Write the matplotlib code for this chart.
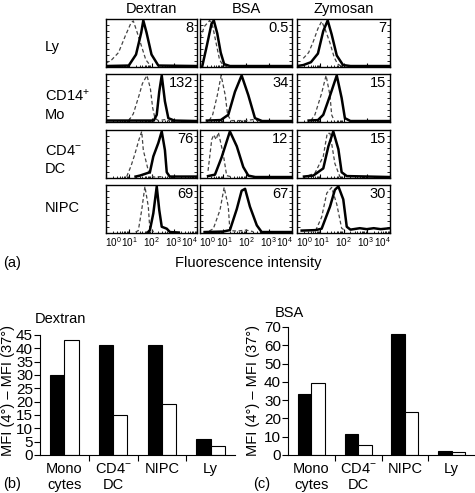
import matplotlib
matplotlib.use("Agg")
import matplotlib.pyplot as plt
import matplotlib.transforms as mtransforms
import numpy as np
from matplotlib.ticker import FixedLocator, NullFormatter

plt.rcParams['font.family'] = ['Liberation Sans', 'DejaVu Sans']
plt.rcParams['mathtext.fontset'] = 'custom'
plt.rcParams['mathtext.rm'] = 'Liberation Sans'
plt.rcParams['mathtext.it'] = 'Liberation Sans:italic'
plt.rcParams['mathtext.bf'] = 'Liberation Sans:bold'

# ---------------- data ----------------
stimuli = ["Dextran", "BSA", "Zymosan"]
cell_rows = ["Ly", "CD14$^{+}$\nMo", "CD4$^{-}$\nDC", "NIPC"]
mfi_numbers = [["8", "0.5", "7"],
               ["132", "34", "15"],
               ["76", "12", "15"],
               ["69", "67", "30"]]
decade_labels = [r"$\mathregular{10^{%d}}$" % k for k in range(5)]

# histogram curves: (log10 fluorescence, relative count)
ly_dex_solid = [(0, 0.02), (1.0, 0.03), (1.32, 0.26), (1.55, 0.72), (1.64, 0.97), (1.78, 0.72), (2.0, 0.26), (2.3, 0.03), (4.0, 0.02)]
ly_dex_dash = [(0.0, 0.08), (0.25, 0.15), (0.55, 0.3), (0.85, 0.65), (1.1, 0.92), (1.2, 0.96), (1.35, 0.75), (1.55, 0.45), (1.75, 0.15), (1.95, 0.03)]
ly_bsa_solid = [(0.1, 0.02), (0.3, 0.45), (0.5, 0.9), (0.6, 0.97), (0.75, 0.7), (0.9, 0.3), (1.05, 0.06), (1.3, 0.02), (4.0, 0.02)]
ly_bsa_dash = [(0.0, 0.6), (0.2, 0.85), (0.42, 0.97), (0.55, 0.85), (0.7, 0.5), (0.85, 0.15), (1.0, 0.04), (1.2, 0.0)]
ly_zym_solid = [(0, 0.02), (0.27, 0.04), (0.6, 0.1), (0.9, 0.28), (1.13, 0.75), (1.32, 0.97), (1.49, 0.68), (1.71, 0.24), (1.98, 0.04), (2.3, 0.02), (4.0, 0.02)]
ly_zym_dash = [(0.27, 0.18), (0.5, 0.3), (0.7, 0.53), (0.9, 0.8), (1.06, 0.95), (1.2, 0.8), (1.42, 0.5), (1.6, 0.2), (1.75, 0.06), (1.9, 0.02)]

mo_dex_solid = [(0, 0.03), (2.1, 0.03), (2.23, 0.15), (2.34, 0.63), (2.45, 0.97), (2.59, 0.43), (2.74, 0.08), (3.0, 0.03), (4.0, 0.02)]
mo_dex_dash = [(1.0, 0.03), (1.2, 0.17), (1.45, 0.55), (1.6, 0.8), (1.8, 0.97), (1.95, 0.7), (2.05, 0.3), (2.15, 0.08), (2.3, 0.03), (2.6, 0.05), (2.8, 0.02)]
mo_bsa_solid = [(0.3, 0.03), (0.9, 0.04), (1.23, 0.15), (1.52, 0.63), (1.81, 0.97), (2.1, 0.56), (2.39, 0.08), (2.7, 0.02), (4.0, 0.02)]
mo_bsa_dash = [(0.4, 0.03), (0.55, 0.15), (0.75, 0.55), (0.92, 0.97), (1.1, 0.55), (1.2, 0.15), (1.35, 0.03), (2.0, 0.03), (2.3, 0.05), (2.6, 0.02)]
mo_zym_solid = [(0.5, 0.03), (0.9, 0.04), (1.13, 0.15), (1.42, 0.55), (1.71, 0.97), (1.92, 0.5), (2.06, 0.08), (2.3, 0.02), (4.0, 0.02)]
mo_zym_dash = [(0.6, 0.03), (0.77, 0.15), (1.06, 0.6), (1.25, 0.97), (1.42, 0.55), (1.49, 0.15), (1.6, 0.03)]

dc_dex_solid = [(1.3, 0.03), (1.49, 0.05), (1.93, 0.12), (2.08, 0.45), (2.3, 0.73), (2.45, 0.97), (2.59, 0.58), (2.67, 0.12), (2.8, 0.03), (4.0, 0.03)]
dc_dex_dash = [(0.91, 0.03), (1.1, 0.25), (1.27, 0.5), (1.45, 0.8), (1.57, 0.97), (1.64, 0.58), (1.86, 0.15), (2.08, 0.02), (2.5, 0.03)]
dc_bsa_solid = [(0.35, 0.04), (0.65, 0.07), (0.94, 0.43), (1.3, 0.97), (1.6, 0.66), (1.88, 0.23), (2.1, 0.05), (2.4, 0.02), (4.0, 0.02)]
dc_bsa_dash = [(0.35, 0.15), (0.51, 0.8), (0.6, 0.9), (0.7, 0.8), (0.8, 0.95), (1.01, 0.5), (1.16, 0.05), (1.4, 0.02)]
dc_zym_solid = [(0.3, 0.03), (0.7, 0.05), (1.13, 0.2), (1.35, 0.66), (1.56, 0.97), (1.78, 0.6), (1.92, 0.12), (2.14, 0.04), (4.0, 0.02)]
dc_zym_dash = [(0.5, 0.05), (0.77, 0.1), (1.13, 0.45), (1.3, 0.93), (1.42, 0.93), (1.63, 0.3), (1.85, 0.02)]

np_dex_solid = [(1.85, 0.02), (1.93, 0.06), (2.08, 0.41), (2.23, 0.97), (2.34, 0.48), (2.45, 0.13), (2.67, 0.09), (2.81, 0.02), (3.2, 0.01)]
np_dex_dash = [(1.3, 0.02), (1.42, 0.05), (1.57, 0.48), (1.71, 0.97), (1.86, 0.55), (1.93, 0.06), (2.1, 0.03)]
np_bsa_solid = [(0.2, 0.02), (1.0, 0.03), (1.3, 0.06), (1.6, 0.5), (1.81, 0.88), (1.96, 0.92), (2.17, 0.55), (2.47, 0.16), (2.68, 0.02), (4.0, 0.02)]
np_bsa_dash = [(0.4, 0.04), (0.58, 0.09), (0.87, 0.48), (1.05, 0.95), (1.23, 0.55), (1.3, 0.05), (1.6, 0.04), (2.0, 0.06), (2.3, 0.03)]
np_zym_solid = [(0.2, 0.05), (0.8, 0.06), (1.06, 0.09), (1.42, 0.55), (1.63, 0.9), (1.78, 0.97), (1.99, 0.7), (2.14, 0.13), (2.3, 0.07), (2.7, 0.1), (3.0, 0.08), (3.3, 0.1), (3.6, 0.08), (4.0, 0.1)]
np_zym_dash = [(0.8, 0.05), (1.06, 0.33), (1.28, 0.83), (1.49, 0.95), (1.71, 0.6), (1.92, 0.1), (2.1, 0.04)]

solid_curves = [[ly_dex_solid, ly_bsa_solid, ly_zym_solid],
                [mo_dex_solid, mo_bsa_solid, mo_zym_solid],
                [dc_dex_solid, dc_bsa_solid, dc_zym_solid],
                [np_dex_solid, np_bsa_solid, np_zym_solid]]
dash_curves = [[ly_dex_dash, ly_bsa_dash, ly_zym_dash],
               [mo_dex_dash, mo_bsa_dash, mo_zym_dash],
               [dc_dex_dash, dc_bsa_dash, dc_zym_dash],
               [np_dex_dash, np_bsa_dash, np_zym_dash]]

bar_categories = ["Mono\ncytes", "CD4$^{-}$\nDC", "NIPC", "Ly"]
dextran_4 = [30, 41.2, 41.2, 5.9]
dextran_37 = [43.1, 15, 19.1, 3.4]
bsa_4 = [33.1, 11.5, 66.4, 2.2]
bsa_37 = [39.5, 5.5, 23.3, 1.5]

# ---------------- figure ----------------
W, H = 475, 493
fig = plt.figure(figsize=(W / 100, H / 100), dpi=100)


def ax_px(x, y, w, h):
    return fig.add_axes([x / W, 1 - (y + h) / H, w / W, h / H])


col_x = [(106, 91), (200, 92), (297, 93)]
row_y = [19, 74, 130, 185]
row_h = 48

minor_pos = [k + np.log10(m) for k in range(4) for m in range(2, 10)]
label_shift_px = [7.5, 1, 0, -1, -7.5]

for r in range(4):
    for c in range(3):
        x0, w = col_x[c]
        ax = ax_px(x0, row_y[r], w, row_h)
        sx, sy = zip(*solid_curves[r][c])
        dx, dy = zip(*dash_curves[r][c])
        ax.plot(dx, dy, color='#444444', lw=0.9, dashes=(3, 2))
        ax.plot(sx, sy, color='black', lw=1.8, solid_joinstyle='round')
        ax.set_xlim(0, 4)
        ax.set_ylim(0, 1.0)
        ax.xaxis.set_major_locator(FixedLocator(range(5)))
        ax.xaxis.set_minor_locator(FixedLocator(minor_pos))
        ax.yaxis.set_major_locator(FixedLocator(np.arange(0.125, 1.0, 0.125)))
        ax.tick_params(axis='x', which='major', direction='in', length=3, width=0.8, top=False,
                       labelbottom=False)
        ax.tick_params(axis='x', which='minor', direction='in', length=1.6, width=0.6, top=False)
        ax.tick_params(axis='y', which='major', direction='in', length=2.2, width=0.6,
                       left=True, right=True, labelleft=False)
        if r == 3:
            base = ax.get_xaxis_transform()
            for k, lab in enumerate(decade_labels):
                off = mtransforms.ScaledTranslation(label_shift_px[k] / 100, -2 / 100,
                                                    fig.dpi_scale_trans)
                ax.text(k, 0, lab, transform=base + off, ha='center', va='top', fontsize=7.2)
        for s in ax.spines.values():
            s.set_linewidth(1.0)
        ax.text(0.96, 0.95, mfi_numbers[r][c], transform=ax.transAxes,
                ha='right', va='top', fontsize=10.5)
        if r == 0:
            ax.set_title(stimuli[c], fontsize=10.5, pad=4)

row_label_y = [47, 105, 160, 208]
for r in range(4):
    fig.text(45 / W, 1 - row_label_y[r] / H, cell_rows[r], ha='left', va='center',
             fontsize=10.5, linespacing=1.35)

fig.text(248 / W, 1 - 263 / H, "Fluorescence intensity", ha='center', va='center', fontsize=10.5)
fig.text(3 / W, 1 - 263 / H, "(a)", ha='left', va='center', fontsize=10.5)


def bar_panel(ax, v4, v37, ymax, step):
    pos = np.arange(len(bar_categories))
    bw = 0.29
    ax.bar(pos - bw / 2, v4, bw, color='black', edgecolor='black', linewidth=0.8)
    ax.bar(pos + bw / 2, v37, bw, color='white', edgecolor='black', linewidth=0.8)
    ax.set_xlim(-0.5, len(bar_categories) - 0.5)
    ax.set_ylim(0, ymax)
    ax.set_yticks(np.arange(0, ymax + 0.1, step))
    ax.set_xticks(pos)
    ax.set_xticklabels(bar_categories, fontsize=10.5, linespacing=1.15)
    ax.xaxis.set_minor_locator(FixedLocator(pos[:-1] + 0.5))
    ax.xaxis.set_minor_formatter(NullFormatter())
    ax.tick_params(axis='x', which='major', length=0, pad=5)
    ax.tick_params(axis='x', which='minor', length=4, width=0.8, direction='out')
    ax.tick_params(axis='y', length=4, width=0.8, direction='out', labelsize=11, pad=1)
    ax.spines['top'].set_visible(False)
    ax.spines['right'].set_visible(False)
    ax.spines['left'].set_linewidth(0.8)
    ax.spines['bottom'].set_linewidth(0.8)


ax_b = ax_px(40, 335, 195, 120)
bar_panel(ax_b, dextran_4, dextran_37, 45, 5)
ax_c = ax_px(288, 327, 187, 128)
bar_panel(ax_c, bsa_4, bsa_37, 70, 10)

fig.text(35 / W, 1 - 319 / H, "Dextran", ha='left', va='center', fontsize=10.5)
fig.text(275 / W, 1 - 313 / H, "BSA", ha='left', va='center', fontsize=10.5)
ylab = "MFI (4°) – MFI (37°)"
fig.text(8 / W, 1 - 390 / H, ylab, rotation=90, ha='center', va='center', fontsize=10.5)
fig.text(253 / W, 1 - 390 / H, ylab, rotation=90, ha='center', va='center', fontsize=10.5)
fig.text(3 / W, 1 - 484 / H, "(b)", ha='left', va='center', fontsize=10.5)
fig.text(253 / W, 1 - 484 / H, "(c)", ha='left', va='center', fontsize=10.5)

fig.savefig("out.png", dpi=100)
